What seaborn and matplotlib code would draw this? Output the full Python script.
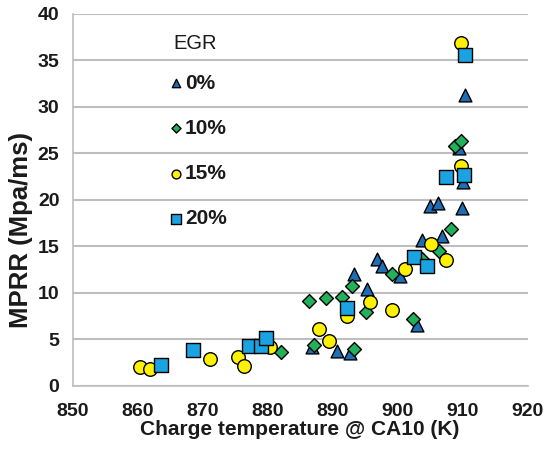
import matplotlib
matplotlib.use("Agg")
import matplotlib.pyplot as plt
import seaborn as sns
import pandas as pd

# ---- data ----
egr_levels = ["0%", "10%", "15%", "20%"]

t_0 = [886.8, 890.6, 892.7, 893.3, 895.3, 896.8, 897.6, 900.3, 903.0, 903.8,
       905.0, 906.2, 906.8, 909.4, 910.0, 909.9, 910.4]
m_0 = [4.2, 3.8, 3.5, 12.0, 10.4, 13.6, 12.9, 11.8, 6.6, 15.7,
       19.3, 19.6, 16.1, 25.6, 21.9, 19.1, 31.3]

t_10 = [882.0, 886.4, 887.1, 889.0, 891.4, 893.0, 893.3, 895.1, 899.1, 902.4,
        903.8, 906.3, 908.2, 908.8, 909.7]
m_10 = [3.6, 9.1, 4.4, 9.5, 9.6, 10.7, 4.0, 7.9, 12.0, 7.2,
        13.6, 14.5, 16.9, 25.8, 26.3]

t_15 = [860.3, 861.9, 871.1, 875.5, 876.3, 880.4, 887.9, 889.5, 892.2, 895.7,
        899.2, 901.2, 905.1, 907.4, 909.7, 909.7]
m_15 = [2.0, 1.8, 2.9, 3.1, 2.1, 4.2, 6.1, 4.8, 7.5, 9.0,
        8.2, 12.6, 15.2, 13.5, 23.6, 36.8]

t_20 = [863.6, 868.5, 877.2, 879.0, 879.7, 892.2, 902.5, 904.5, 907.5, 910.2, 910.4]
m_20 = [2.3, 3.9, 4.3, 4.3, 5.2, 8.4, 13.8, 12.9, 22.5, 22.7, 35.5]

x_ticks = [850, 860, 870, 880, 890, 900, 910, 920]
y_ticks = [0, 5, 10, 15, 20, 25, 30, 35, 40]

groups = [
    ("0%", t_0, m_0, "^", "#1F6DB5", 85),
    ("10%", t_10, m_10, "D", "#22B05A", 50),
    ("15%", t_15, m_15, "o", "#FFF200", 95),
    ("20%", t_20, m_20, "s", "#1AA3E0", 110),
]

sns.set_theme(style="white")
plt.rcParams["font.family"] = ["Liberation Sans", "DejaVu Sans"]

fig = plt.figure(figsize=(5.49, 4.53), dpi=100)
ax = fig.add_axes([0.1324, 0.148, 0.8286, 0.822])

for label, xs, ys, mk, col, s in groups:
    df = pd.DataFrame({"T": xs, "MPRR": ys})
    sns.scatterplot(data=df, x="T", y="MPRR", ax=ax, marker=mk, color=col,
                    s=s, edgecolor="black", linewidth=1.0, label=label, zorder=3)

ax.set_xlim(850, 920)
ax.set_ylim(0, 40)
ax.set_xticks(x_ticks)
ax.set_yticks(y_ticks)
ax.set_xticklabels([str(v) for v in x_ticks], fontsize=14, fontweight="bold")
ax.set_yticklabels([str(v) for v in y_ticks], fontsize=14, fontweight="bold")

ax.yaxis.grid(True, color="#BEBEBE", linewidth=1.5, zorder=0)
ax.xaxis.grid(False)
for side in ["top", "right"]:
    ax.spines[side].set_visible(False)
for side in ["left", "bottom"]:
    ax.spines[side].set_color("#BEBEBE")
    ax.spines[side].set_linewidth(1.2)
ax.tick_params(axis="both", which="major", direction="out", length=4,
               color="#BEBEBE", width=1.2, labelcolor="#1a1a1a")
ax.tick_params(axis="x", pad=8)
ax.tick_params(axis="y", pad=5.5)

ax.set_xlabel("Charge temperature @ CA10 (K)", fontsize=15, fontweight="bold",
              color="#1a1a1a", labelpad=0)
ax.set_ylabel("MPRR (Mpa/ms)", fontsize=18.5, fontweight="bold",
              color="#1a1a1a")
ax.yaxis.set_label_coords(-0.087, 0.419)

ax.text(0.2204, 0.921, "EGR", transform=ax.transAxes, fontsize=14.5,
        color="#1a1a1a", ha="left", va="center")

leg = ax.legend(loc="upper left", bbox_to_anchor=(0.214, 0.838),
                frameon=False, markerscale=0.65, handletextpad=0.12,
                handlelength=0.6, labelspacing=1.25, borderaxespad=0,
                borderpad=0, prop={"size": 15, "weight": "bold"})
for t in leg.get_texts():
    t.set_color("#1a1a1a")

fig.savefig("out.png", dpi=100)
